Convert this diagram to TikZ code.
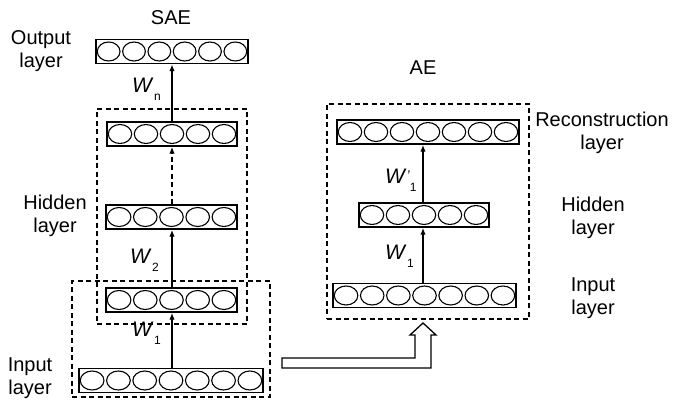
\documentclass[tikz,border=0pt]{standalone}
\usepackage{fontspec}
\setmainfont{Liberation Sans}
\usetikzlibrary{arrows.meta}
\tikzset{
  layerbox/.style={draw, line width=1.5pt, rectangle, inner sep=0pt, minimum height=24pt},
  cell/.style={line width=1.1pt},
  dashbox/.style={draw, dashed, dash pattern=on 5pt off 3.5pt, line width=1.1pt, rectangle, inner sep=0pt},
  arr/.style={line width=1.7pt, -{Latex[length=7pt,width=5.5pt]}},
  lbl/.style={font=\fontsize{20}{23}\selectfont, align=center, inner sep=0pt},
  wl/.style={font=\fontsize{21}{23}\selectfont, anchor=base west, inner sep=0pt},
}
\newcommand\mylayer[5]{%
  \node[layerbox, minimum width=#4pt] (#1) at (#2,#3) {};
  \foreach \i in {1,...,#5}{%
    \pgfmathsetmacro\cx{#2-#4/2+(\i-0.5)*#4/#5}%
    \pgfmathsetmacro\rx{#4/#5/2-1.3}%
    \draw[cell] (\cx,#3) ellipse[x radius=\rx pt, y radius=9.5pt];}%
}
\newcommand\wsub[1]{\textit{W}\hspace{0.5pt}\raisebox{-8pt}{\fontsize{12}{12}\selectfont #1}}
\begin{document}
\begin{tikzpicture}[x=1pt,y=-1pt]
\useasboundingbox (0,0) rectangle (673,403);
% SAE
\mylayer{out}{172}{51.5}{152}{6}
\mylayer{hthree}{172}{134}{130}{5}
\mylayer{htwo}{171.5}{217}{131}{5}
\mylayer{hone}{171.5}{300}{131}{5}
\mylayer{inp}{171}{380.5}{184}{7}
\node[dashbox, minimum width=150pt, minimum height=215pt] (saehid) at (172,216.5) {};
\node[dashbox, minimum width=198pt, minimum height=116pt] (saein) at (171,339) {};
\coordinate (sx) at (172,0);
\draw[arr] (sx |- inp.north) -- (sx |- hone.south);
\draw[arr] (sx |- hone.north) -- (sx |- htwo.south);
\draw[arr, line width=1.3pt, dash pattern=on 5pt off 3.5pt] (sx |- htwo.north) -- (sx |- hthree.south);
\draw[arr] (sx |- hthree.north) -- (sx |- out.south);
\node[lbl] (sae) at (171,18) {SAE};
\node[lbl] (outl) at (41,51) {Output\\layer};
\node[lbl] (hidl) at (55,216) {Hidden\\layer};
\node[lbl] (inl) at (30,378) {Input\\layer};
\node[wl] (wn) at (132,93) {\wsub{n}};
\node[wl] (wtwo) at (130,264) {\wsub{2}};
\node[wl] (wone) at (132,337) {\wsub{1}};
% AE
\mylayer{rec}{428}{132}{182}{7}
\mylayer{aeh}{424}{215}{130}{5}
\mylayer{aein}{424.5}{295.5}{183}{7}
\node[dashbox, minimum width=202pt, minimum height=215pt] (aebox) at (428,211.5) {};
\coordinate (ax) at (423,0);
\draw[arr] (ax |- aein.north) -- (ax |- aeh.south);
\draw[arr] (ax |- aeh.north) -- (ax |- rec.south);
\node[lbl] (ae) at (423,68) {AE};
\node[lbl] (recl) at (602,133) {Reconstruction\\layer};
\node[lbl] (aehl) at (593,218) {Hidden\\layer};
\node[lbl] (aeinl) at (593,298) {Input\\layer};
\node[wl] (wpone) at (385,184) {\textit{W}\raisebox{3pt}{\fontsize{14}{14}\selectfont\textit{'}}\raisebox{-8pt}{\fontsize{12}{12}\selectfont 1}};
\node[wl] (waeone) at (385,260) {\wsub{1}};
% hollow arrow
\draw[line width=1.3pt, fill=white, line join=miter]
  (282,358) -- (415,358) -- (415,335) -- (410,335) -- (423,323) -- (436,335) -- (431,335) -- (431,368) -- (282,368) -- cycle;
\end{tikzpicture}
\end{document}
